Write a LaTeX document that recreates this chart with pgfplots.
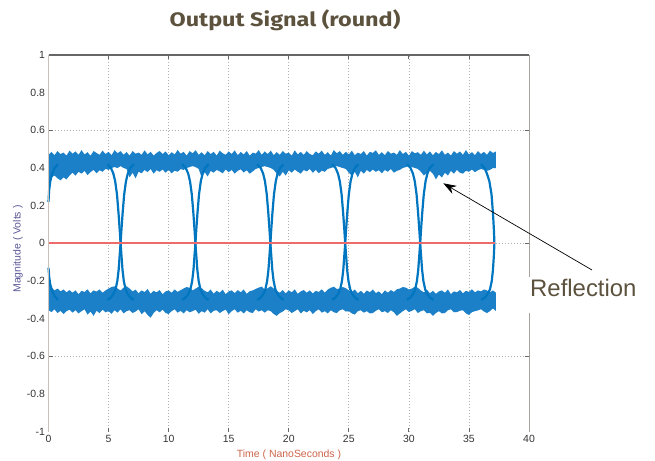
\documentclass[border=0pt]{standalone}
\usepackage{pgfplots}
\pgfplotsset{compat=1.18}
\usetikzlibrary{arrows.meta}
\usepackage{graphicx}
\usepackage{fontspec}
\setmainfont{Liberation Sans}
\newfontfamily\titlefont{Fira Sans}
\definecolor{eyeblue}{RGB}{0,118,192}
\definecolor{bandblue}{RGB}{28,128,200}
\definecolor{titlebrown}{RGB}{92,82,62}
\definecolor{ylab}{RGB}{90,88,150}
\definecolor{xlab}{RGB}{205,100,75}
\definecolor{refred}{rgb}{0.93,0.42,0.42}
\definecolor{gridgray}{RGB}{175,175,175}
\begin{document}
\begin{tikzpicture}
\useasboundingbox (0,0) rectangle (655bp,461bp);
\begin{axis}[
  at={(48.5bp,29.3bp)}, anchor=south west,
  scale only axis, width=480.5bp, height=376.7bp,
  xmin=0, xmax=40, ymin=-1, ymax=1,
  clip=false,
  axis line style={draw=none},
  xtick={0,5,10,15,20,25,30,35,40},
  xticklabels={0,5,10,15,20,25,30,35,40},
  ytick={-0.6,0,0.6},
  yticklabels={-0.6,0,0.6},
  extra y ticks={-1,-0.8,-0.4,-0.2,0.2,0.4,0.8,1},
  extra y tick labels={-1,-0.8,-0.4,-0.2,0.2,0.4,0.8,1},
  extra y tick style={grid=none, tick style={draw=none}},
  tick label style={font=\fontsize{10.5}{12}\selectfont, text=black!80},
  xmajorgrids, ymajorgrids,
  grid style={gridgray, line width=0.7bp, dash pattern=on 1bp off 2bp},
  tick style={draw=black!60, line width=0.8bp},
  major tick length=4bp,
  tick align=inside,
]
% upper noise band: top edge left to right, bottom edge right to left
\addplot[fill=bandblue, draw=none] coordinates {
(0,0.47) (0.25,0.485) (0.5,0.468) (0.75,0.49) (1,0.474) (1.25,0.482) (1.5,0.466) (1.75,0.492)
(2,0.476) (2.25,0.488) (2.5,0.47) (2.75,0.495) (3,0.472) (3.25,0.484) (3.5,0.465) (3.75,0.49)
(4,0.48) (4.25,0.47) (4.5,0.492) (4.75,0.474) (5,0.486) (5.25,0.468) (5.5,0.495) (5.75,0.478)
(6,0.49) (6.25,0.47) (6.5,0.485) (6.75,0.466) (7,0.49) (7.25,0.476) (7.5,0.482) (7.75,0.47)
(8,0.494) (8.25,0.472) (8.5,0.486) (8.75,0.466) (9,0.48) (9.25,0.49) (9.5,0.474) (9.75,0.488)
(10,0.468) (10.25,0.484) (10.5,0.472) (10.75,0.496) (11,0.476) (11.25,0.486) (11.5,0.466) (11.75,0.49)
(12,0.478) (12.25,0.495) (12.5,0.47) (12.75,0.484) (13,0.468) (13.25,0.49) (13.5,0.474) (13.75,0.486)
(14,0.466) (14.25,0.492) (14.5,0.478) (14.75,0.47) (15,0.488) (15.25,0.474) (15.5,0.494) (15.75,0.468)
(16,0.485) (16.25,0.472) (16.5,0.49) (16.75,0.466) (17,0.482) (17.25,0.476) (17.5,0.495) (17.75,0.47)
(18,0.488) (18.25,0.474) (18.5,0.492) (18.75,0.468) (19,0.484) (19.25,0.47) (19.5,0.49) (19.75,0.476)
(20,0.482) (20.25,0.466) (20.5,0.494) (20.75,0.472) (21,0.486) (21.25,0.47) (21.5,0.49) (21.75,0.474)
(22,0.468) (22.25,0.488) (22.5,0.476) (22.75,0.492) (23,0.47) (23.25,0.484) (23.5,0.466) (23.75,0.495)
(24,0.478) (24.25,0.49) (24.5,0.47) (24.75,0.486) (25,0.472) (25.25,0.492) (25.5,0.468) (25.75,0.482)
(26,0.474) (26.25,0.49) (26.5,0.466) (26.75,0.486) (27,0.48) (27.25,0.494) (27.5,0.47) (27.75,0.484)
(28,0.468) (28.25,0.49) (28.5,0.476) (28.75,0.482) (29,0.47) (29.25,0.495) (29.5,0.474) (29.75,0.486)
(30,0.466) (30.25,0.49) (30.5,0.478) (30.75,0.484) (31,0.47) (31.25,0.492) (31.5,0.472) (31.75,0.488)
(32,0.468) (32.25,0.485) (32.5,0.474) (32.75,0.494) (33,0.47) (33.25,0.482) (33.5,0.466) (33.75,0.49)
(34,0.476) (34.25,0.488) (34.5,0.47) (34.75,0.495) (35,0.472) (35.25,0.484) (35.5,0.468) (35.75,0.49)
(36,0.474) (36.25,0.486) (36.5,0.47) (36.75,0.492) (37,0.48) (37.25,0.488)
(37.25,0.40) (37,0.40) (36.75,0.39) (36.5,0.385) (36.25,0.39) (36,0.395)
(35.75,0.388) (35.5,0.378) (35.25,0.392) (35,0.38) (34.75,0.385) (34.5,0.37) (34.25,0.375) (34,0.39)
(33.75,0.37) (33.5,0.385) (33.25,0.36) (33,0.375) (32.75,0.35) (32.5,0.365) (32.25,0.34) (32,0.37)
(31.75,0.385) (31.5,0.375) (31.25,0.36) (31,0.38) (30.75,0.395) (30.5,0.40) (30.25,0.405) (30,0.41)
(29.75,0.405) (29.5,0.40) (29.25,0.39) (29,0.385) (28.75,0.375) (28.5,0.395) (28.25,0.38) (28,0.39)
(27.75,0.372) (27.5,0.388) (27.25,0.38) (27,0.392) (26.75,0.378) (26.5,0.39) (26.25,0.37) (26,0.385)
(25.75,0.35) (25.5,0.38) (25.25,0.36) (25,0.375) (24.75,0.395) (24.5,0.40) (24.25,0.405) (24,0.41)
(23.75,0.405) (23.5,0.40) (23.25,0.395) (23,0.38) (22.75,0.386) (22.5,0.372) (22.25,0.39) (22,0.375)
(21.75,0.395) (21.5,0.382) (21.25,0.39) (21,0.37) (20.75,0.38) (20.5,0.392) (20.25,0.375) (20,0.388)
(19.75,0.36) (19.5,0.38) (19.25,0.355) (19,0.37) (18.75,0.39) (18.5,0.40) (18.25,0.405) (18,0.41)
(17.75,0.405) (17.5,0.40) (17.25,0.395) (17,0.382) (16.75,0.37) (16.5,0.388) (16.25,0.376) (16,0.393)
(15.75,0.385) (15.5,0.37) (15.25,0.39) (15,0.378) (14.75,0.392) (14.5,0.372) (14.25,0.382) (14,0.39)
(13.75,0.375) (13.5,0.385) (13.25,0.355) (13,0.378) (12.75,0.35) (12.5,0.395) (12.25,0.405) (12,0.41)
(11.75,0.405) (11.5,0.40) (11.25,0.39) (11,0.394) (10.75,0.38) (10.5,0.386) (10.25,0.372) (10,0.39)
(9.75,0.375) (9.5,0.392) (9.25,0.38) (9,0.388) (8.75,0.37) (8.5,0.395) (8.25,0.378) (8,0.39)
(7.75,0.372) (7.5,0.38) (7.25,0.345) (7,0.375) (6.75,0.35) (6.5,0.395) (6.25,0.40) (6,0.41)
(5.75,0.40) (5.5,0.405) (5.25,0.40) (5,0.39) (4.75,0.395) (4.5,0.38) (4.25,0.388) (4,0.372)
(3.75,0.39) (3.5,0.378) (3.25,0.362) (3,0.385) (2.75,0.37) (2.5,0.38) (2.25,0.36) (2,0.375)
(1.75,0.36) (1.5,0.34) (1.25,0.35) (1,0.335) (0.75,0.345) (0.5,0.36) (0.25,0.35) (0,0.30)
};
% lower noise band: top edge left to right, bottom edge right to left
\addplot[fill=bandblue, draw=none] coordinates {
(0,-0.17) (0.25,-0.235) (0.5,-0.25) (0.75,-0.24) (1,-0.255) (1.25,-0.245) (1.5,-0.26) (1.75,-0.248)
(2,-0.262) (2.25,-0.25) (2.5,-0.27) (2.75,-0.252) (3,-0.258) (3.25,-0.244) (3.5,-0.266) (3.75,-0.25)
(4,-0.256) (4.25,-0.245) (4.5,-0.262) (4.75,-0.25) (5,-0.24) (5.25,-0.232) (5.5,-0.228) (5.75,-0.24)
(6,-0.25) (6.25,-0.235) (6.5,-0.228) (6.75,-0.24) (7,-0.255) (7.25,-0.246) (7.5,-0.265) (7.75,-0.25)
(8,-0.258) (8.25,-0.242) (8.5,-0.268) (8.75,-0.252) (9,-0.26) (9.25,-0.248) (9.5,-0.27) (9.75,-0.255)
(10,-0.25) (10.25,-0.262) (10.5,-0.245) (10.75,-0.258) (11,-0.248) (11.25,-0.24) (11.5,-0.232) (11.75,-0.236)
(12,-0.25) (12.25,-0.24) (12.5,-0.23) (12.75,-0.238) (13,-0.252) (13.25,-0.26) (13.5,-0.245) (13.75,-0.268)
(14,-0.252) (14.25,-0.262) (14.5,-0.246) (14.75,-0.27) (15,-0.255) (15.25,-0.25) (15.5,-0.264) (15.75,-0.248)
(16,-0.26) (16.25,-0.245) (16.5,-0.268) (16.75,-0.254) (17,-0.25) (17.25,-0.242) (17.5,-0.235) (17.75,-0.23)
(18,-0.245) (18.25,-0.238) (18.5,-0.228) (18.75,-0.24) (19,-0.252) (19.25,-0.262) (19.5,-0.248) (19.75,-0.266)
(20,-0.25) (20.25,-0.26) (20.5,-0.244) (20.75,-0.268) (21,-0.255) (21.25,-0.248) (21.5,-0.262) (21.75,-0.25)
(22,-0.266) (22.25,-0.252) (22.5,-0.258) (22.75,-0.244) (23,-0.262) (23.25,-0.245) (23.5,-0.236) (23.75,-0.23)
(24,-0.242) (24.25,-0.24) (24.5,-0.232) (24.75,-0.238) (25,-0.25) (25.25,-0.258) (25.5,-0.245) (25.75,-0.265)
(26,-0.252) (26.25,-0.268) (26.5,-0.25) (26.75,-0.26) (27,-0.245) (27.25,-0.264) (27.5,-0.255) (27.75,-0.27)
(28,-0.25) (28.25,-0.262) (28.5,-0.248) (28.75,-0.258) (29,-0.244) (29.25,-0.24) (29.5,-0.232) (29.75,-0.235)
(30,-0.245) (30.25,-0.24) (30.5,-0.23) (30.75,-0.236) (31,-0.25) (31.25,-0.26) (31.5,-0.246) (31.75,-0.265)
(32,-0.252) (32.25,-0.268) (32.5,-0.255) (32.75,-0.25) (33,-0.262) (33.25,-0.245) (33.5,-0.27) (33.75,-0.255)
(34,-0.26) (34.25,-0.248) (34.5,-0.265) (34.75,-0.252) (35,-0.258) (35.25,-0.244) (35.5,-0.26) (35.75,-0.25)
(36,-0.255) (36.25,-0.245) (36.5,-0.25) (36.75,-0.26) (37,-0.25) (37.25,-0.262)
(37.25,-0.36) (37,-0.345) (36.75,-0.36) (36.5,-0.37) (36.25,-0.362) (36,-0.35)
(35.75,-0.356) (35.5,-0.36) (35.25,-0.365) (35,-0.38) (34.75,-0.372) (34.5,-0.355) (34.25,-0.358) (34,-0.365)
(33.75,-0.366) (33.5,-0.35) (33.25,-0.355) (33,-0.37) (32.75,-0.372) (32.5,-0.36) (32.25,-0.37) (32,-0.385)
(31.75,-0.368) (31.5,-0.372) (31.25,-0.355) (31,-0.36) (30.75,-0.37) (30.5,-0.35) (30.25,-0.358) (30,-0.365)
(29.75,-0.35) (29.5,-0.36) (29.25,-0.372) (29,-0.385) (28.75,-0.366) (28.5,-0.355) (28.25,-0.37) (28,-0.36)
(27.75,-0.366) (27.5,-0.35) (27.25,-0.358) (27,-0.37) (26.75,-0.372) (26.5,-0.36) (26.25,-0.368) (26,-0.355)
(25.75,-0.36) (25.5,-0.378) (25.25,-0.372) (25,-0.36) (24.75,-0.362) (24.5,-0.35) (24.25,-0.355) (24,-0.37)
(23.75,-0.366) (23.5,-0.355) (23.25,-0.372) (23,-0.36) (22.75,-0.368) (22.5,-0.35) (22.25,-0.36) (22,-0.375)
(21.75,-0.355) (21.5,-0.366) (21.25,-0.358) (21,-0.372) (20.75,-0.35) (20.5,-0.36) (20.25,-0.37) (20,-0.356)
(19.75,-0.35) (19.5,-0.362) (19.25,-0.37) (19,-0.385) (18.75,-0.375) (18.5,-0.36) (18.25,-0.355) (18,-0.368)
(17.75,-0.355) (17.5,-0.362) (17.25,-0.35) (17,-0.37) (16.75,-0.366) (16.5,-0.355) (16.25,-0.372) (16,-0.358)
(15.75,-0.368) (15.5,-0.35) (15.25,-0.36) (15,-0.376) (14.75,-0.352) (14.5,-0.36) (14.25,-0.37) (14,-0.355)
(13.75,-0.358) (13.5,-0.372) (13.25,-0.35) (13,-0.368) (12.75,-0.36) (12.5,-0.374) (12.25,-0.352) (12,-0.36)
(11.75,-0.366) (11.5,-0.355) (11.25,-0.372) (11,-0.358) (10.75,-0.368) (10.5,-0.35) (10.25,-0.36) (10,-0.375)
(9.75,-0.37) (9.5,-0.352) (9.25,-0.366) (9,-0.355) (8.75,-0.37) (8.5,-0.395) (8.25,-0.38) (8,-0.36)
(7.75,-0.376) (7.5,-0.35) (7.25,-0.362) (7,-0.37) (6.75,-0.355) (6.5,-0.36) (6.25,-0.372) (6,-0.35)
(5.75,-0.368) (5.5,-0.355) (5.25,-0.374) (5,-0.36) (4.75,-0.366) (4.5,-0.352) (4.25,-0.37) (4,-0.358)
(3.75,-0.385) (3.5,-0.362) (3.25,-0.378) (3,-0.35) (2.75,-0.36) (2.5,-0.372) (2.25,-0.355) (2,-0.368)
(1.75,-0.352) (1.5,-0.36) (1.25,-0.375) (1,-0.358) (0.75,-0.37) (0.5,-0.35) (0.25,-0.365) (0,-0.355)
};
% start tails
\addplot[eyeblue, line width=2.2bp] coordinates {(0,0.22) (0.05,0.28) (0.15,0.33) (0.3,0.37) (0.5,0.40) (0.8,0.42)};
\addplot[eyeblue, line width=2.2bp] coordinates {(0,-0.13) (0.06,-0.18) (0.15,-0.22) (0.3,-0.25) (0.5,-0.28) (0.8,-0.30)};
% falling transitions
\addplot[eyeblue, line width=2.2bp] coordinates {(4.90,0.42) (5.20,0.40) (5.40,0.37) (5.55,0.33) (5.70,0.26) (5.83,0.16) (5.93,0.07) (6.00,0) (6.08,-0.07) (6.16,-0.14) (6.27,-0.20) (6.42,-0.245) (6.60,-0.27) (6.85,-0.29) (7.10,-0.30)};
\addplot[eyeblue, line width=2.2bp] coordinates {(11.13,0.42) (11.43,0.40) (11.63,0.37) (11.78,0.33) (11.93,0.26) (12.06,0.16) (12.16,0.07) (12.23,0) (12.31,-0.07) (12.39,-0.14) (12.50,-0.20) (12.65,-0.245) (12.83,-0.27) (13.08,-0.29) (13.33,-0.30)};
\addplot[eyeblue, line width=2.2bp] coordinates {(17.37,0.42) (17.67,0.40) (17.87,0.37) (18.02,0.33) (18.17,0.26) (18.30,0.16) (18.40,0.07) (18.47,0) (18.55,-0.07) (18.63,-0.14) (18.74,-0.20) (18.89,-0.245) (19.07,-0.27) (19.32,-0.29) (19.57,-0.30)};
\addplot[eyeblue, line width=2.2bp] coordinates {(23.60,0.42) (23.90,0.40) (24.10,0.37) (24.25,0.33) (24.40,0.26) (24.53,0.16) (24.63,0.07) (24.70,0) (24.78,-0.07) (24.86,-0.14) (24.97,-0.20) (25.12,-0.245) (25.30,-0.27) (25.55,-0.29) (25.80,-0.30)};
\addplot[eyeblue, line width=2.2bp] coordinates {(29.84,0.42) (30.14,0.40) (30.34,0.37) (30.49,0.33) (30.64,0.26) (30.77,0.16) (30.87,0.07) (30.94,0) (31.02,-0.07) (31.10,-0.14) (31.21,-0.20) (31.36,-0.245) (31.54,-0.27) (31.79,-0.29) (32.04,-0.30)};
\addplot[eyeblue, line width=2.2bp] coordinates {(36.0,0.42) (36.3,0.40) (36.5,0.37) (36.7,0.33) (36.88,0.26) (37.0,0.16) (37.08,0.07) (37.12,0)};
% rising transitions
\addplot[eyeblue, line width=2.2bp] coordinates {(4.90,-0.30) (5.15,-0.29) (5.40,-0.27) (5.58,-0.245) (5.73,-0.20) (5.84,-0.14) (5.92,-0.07) (6.00,0) (6.07,0.07) (6.17,0.16) (6.30,0.26) (6.45,0.33) (6.60,0.37) (6.80,0.40) (7.10,0.42)};
\addplot[eyeblue, line width=2.2bp] coordinates {(11.13,-0.30) (11.38,-0.29) (11.63,-0.27) (11.81,-0.245) (11.96,-0.20) (12.07,-0.14) (12.15,-0.07) (12.23,0) (12.30,0.07) (12.40,0.16) (12.53,0.26) (12.68,0.33) (12.83,0.37) (13.03,0.40) (13.33,0.42)};
\addplot[eyeblue, line width=2.2bp] coordinates {(17.37,-0.30) (17.62,-0.29) (17.87,-0.27) (18.05,-0.245) (18.20,-0.20) (18.31,-0.14) (18.39,-0.07) (18.47,0) (18.54,0.07) (18.64,0.16) (18.77,0.26) (18.92,0.33) (19.07,0.37) (19.27,0.40) (19.57,0.42)};
\addplot[eyeblue, line width=2.2bp] coordinates {(23.60,-0.30) (23.85,-0.29) (24.10,-0.27) (24.28,-0.245) (24.43,-0.20) (24.54,-0.14) (24.62,-0.07) (24.70,0) (24.77,0.07) (24.87,0.16) (25.00,0.26) (25.15,0.33) (25.30,0.37) (25.50,0.40) (25.80,0.42)};
\addplot[eyeblue, line width=2.2bp] coordinates {(29.84,-0.30) (30.09,-0.29) (30.34,-0.27) (30.52,-0.245) (30.67,-0.20) (30.78,-0.14) (30.86,-0.07) (30.94,0) (31.01,0.07) (31.11,0.16) (31.24,0.26) (31.39,0.33) (31.54,0.37) (31.74,0.40) (32.04,0.42)};
\addplot[eyeblue, line width=2.2bp] coordinates {(36.0,-0.30) (36.3,-0.29) (36.55,-0.27) (36.75,-0.245) (36.9,-0.20) (37.0,-0.14) (37.07,-0.07) (37.12,0)};
% zero reference line
\addplot[color=refred, solid, line width=2bp] coordinates {(0,0) (37.2,0)};
% axis frame (no bottom line in the original)
\draw[black!60, line width=1.6bp] (axis cs:0,1) -- (axis cs:40,1);
\draw[color={rgb,255:red,200;green,192;blue,186}, line width=1bp] (axis cs:0,-1) -- (axis cs:0,1);
\draw[color={rgb,255:red,170;green,160;blue,155}, line width=1bp] (axis cs:40,-1) -- (axis cs:40,1);
\end{axis}
\node[text=titlebrown] at (285bp,441bp) {\scalebox{1.2}[1]{\titlefont\bfseries\fontsize{19.6}{22}\selectfont Output Signal (round)}};
\node[rotate=90, text=ylab, font=\fontsize{10.5}{12}\selectfont] at (18bp,212bp) {Magnitude ( Volts )};
\node[text=xlab, font=\fontsize{10.5}{12}\selectfont] at (289bp,6.5bp) {Time ( NanoSeconds )};
\node[anchor=base west, inner xsep=3bp, inner ysep=3bp, text depth=13bp, fill=white, text=titlebrown, font=\fontsize{24}{28}\selectfont] at (527bp,164bp) {Reflection};
\draw[-{Stealth[length=13bp,width=9bp]}, line width=0.7bp] (592bp,191bp) -- (443.3bp,277.7bp);
\end{tikzpicture}
\end{document}
